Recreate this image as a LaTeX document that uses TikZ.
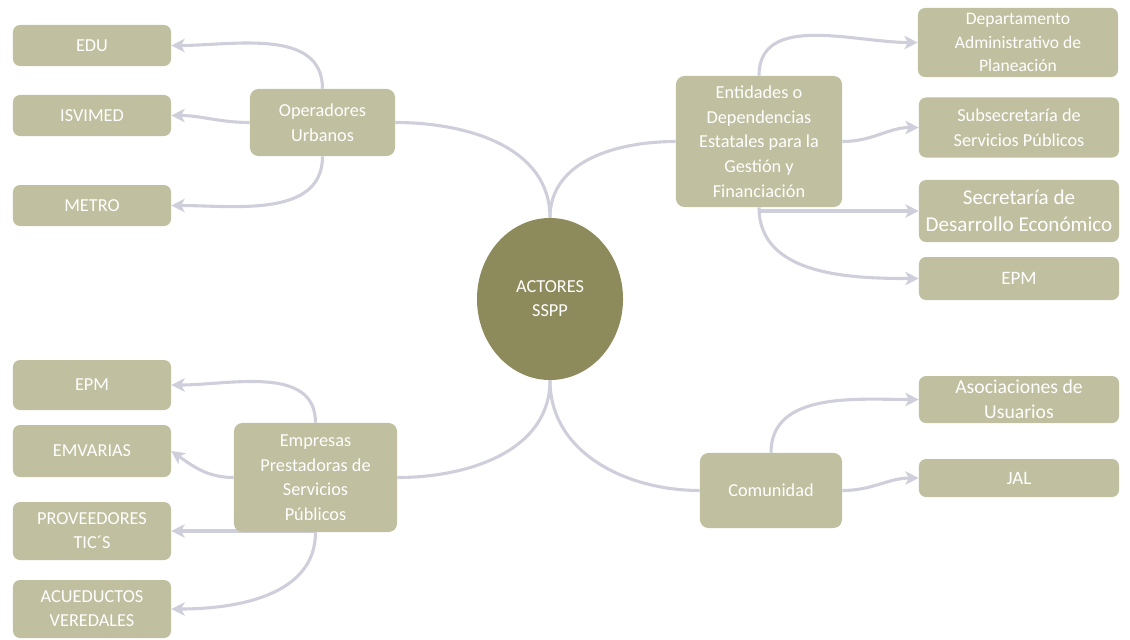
\documentclass[tikz,border=0pt]{standalone}
\usepackage{fontspec}
\setmainfont{Carlito}
\usetikzlibrary{arrows.meta, shapes.geometric, positioning, backgrounds}
\definecolor{boxcolor}{RGB}{192, 191, 160}
\definecolor{corecolor}{RGB}{141, 139, 92}
\definecolor{linkcolor}{RGB}{206, 207, 218}
\tikzset{
  branchbox/.style={
    rectangle, rounded corners=6pt, fill=boxcolor, text=white,
    align=center, inner sep=1pt, font=\fontsize{13}{17.5}\selectfont
  },
  leafbox/.style={
    rectangle, rounded corners=5pt, fill=boxcolor, text=white,
    align=center, inner sep=0pt, minimum width=3.95cm,
    font=\fontsize{13}{17}\selectfont
  },
  rightleaf/.style={
    leafbox, minimum width=5cm, font=\fontsize{13.5}{17.5}\selectfont
  },
  core/.style={
    ellipse, fill=corecolor, text=white, align=center, inner sep=0pt,
    minimum width=3.65cm, minimum height=4.05cm,
    font=\fontsize{13}{17}\selectfont
  },
  link/.style={draw=linkcolor, line width=2.2pt},
  arrow/.style={link, -{Stealth[length=9.5pt,width=9.5pt,inset=2.5pt]}}
}

\begin{document}
\begin{tikzpicture}[x=0.025cm, y=-0.025cm]
  \useasboundingbox (0,0) rectangle (1130,639);

  %% ---- centre ----
  \node[core] (core) at (550,299) {ACTORES\\SSPP};

  %% ---- four branches ----
  \node[branchbox, minimum width=3.625cm, minimum height=1.675cm] (oper)
    at (322.5,122.5) {Operadores\\Urbanos};
  \node[branchbox, minimum width=4.15cm, minimum height=3.275cm] (ent)
    at (759,141.5) {Entidades o\\Dependencias\\Estatales para la\\Gestión y\\Financiación};
  \node[branchbox, minimum width=4.075cm, minimum height=2.725cm] (emp)
    at (315.5,477.5) {Empresas\\Prestadoras de\\Servicios\\Públicos};
  \node[branchbox, minimum width=3.55cm, minimum height=1.875cm] (com)
    at (771,490.5) {Comunidad};

  %% ---- left top leaves ----
  \node[leafbox, minimum height=1.025cm] (edu) at (92,45.5) {EDU};
  \node[leafbox, minimum height=1.025cm] (isvimed) at (92,115.5) {ISVIMED};
  \node[leafbox, minimum height=1.025cm] (metro) at (92,205.5) {METRO};

  %% ---- left bottom leaves ----
  \node[leafbox, minimum height=1.25cm] (epml) at (92,385) {EPM};
  \node[leafbox, minimum height=1.3cm] (emvarias) at (92,451) {EMVARIAS};
  \node[leafbox, minimum height=1.45cm] (tics) at (92,531) {PROVEEDORES\\TIC´S};
  \node[leafbox, minimum height=1.45cm] (acued) at (92,609) {ACUEDUCTOS\\VEREDALES};

  %% ---- right top leaves ----
  \node[rightleaf, minimum height=1.725cm, font=\fontsize{12.5}{17}\selectfont] (planea)
    at (1018,42.5) {Departamento\\Administrativo de\\Planeación};
  \node[rightleaf, minimum height=1.5cm, font=\fontsize{13}{18}\selectfont] (subsec)
    at (1019,127.5) {Subsecretaría de\\Servicios Públicos};
  \node[rightleaf, minimum height=1.55cm, font=\fontsize{15}{19.5}\selectfont] (desarr)
    at (1019,211) {Secretaría de\\Desarrollo Económico};
  \node[rightleaf, minimum height=1.075cm] (epmr) at (1019,278.5) {EPM};

  %% ---- right bottom leaves ----
  \node[rightleaf, minimum height=1.175cm, font=\fontsize{14}{18}\selectfont] (asoc)
    at (1019,399.5) {Asociaciones de\\Usuarios};
  \node[rightleaf, minimum height=0.95cm] (jal) at (1019,478) {JAL};

  \begin{scope}[on background layer]
    %% ---- centre to branches ----
    \draw[link] (core.north) to[out=90, in=0] (oper.east);
    \draw[link] (core.north) to[out=90, in=180] (ent.west);
    \draw[link] (core.south) to[out=-90, in=0] (emp.east);
    \draw[link] (core.south) to[out=-90, in=180] (com.west);

    %% ---- Operadores Urbanos ----
    \draw[arrow] (oper.north) to[out=90, in=0] (edu.east);
    \draw[arrow] (oper.west) to[out=180, in=0] (isvimed.east);
    \draw[arrow] (oper.south) to[out=-90, in=0] (metro.east);

    %% ---- Entidades ----
    \draw[arrow] (ent.north) to[out=90, in=180] (planea.west);
    \draw[arrow] (ent.east) to[out=0, in=180] (subsec.west);
    \draw[arrow] (ent.south |- desarr.west) -- (desarr.west);
    \draw[arrow] (ent.south) to[out=-90, in=180] (epmr.west);

    %% ---- Empresas ----
    \draw[arrow] (emp.north) to[out=90, in=0] (epml.east);
    \draw[arrow] (emp.west) to[out=180, in=-35] (emvarias.east);
    \draw[arrow] (emp.south |- tics.east) -- (tics.east);
    \draw[arrow] (emp.south) to[out=-90, in=0] (acued.east);

    %% ---- Comunidad ----
    \draw[arrow] (com.north) to[out=90, in=180] (asoc.west);
    \draw[arrow] (com.east) to[out=0, in=180] (jal.west);
  \end{scope}

\end{tikzpicture}
\end{document}
